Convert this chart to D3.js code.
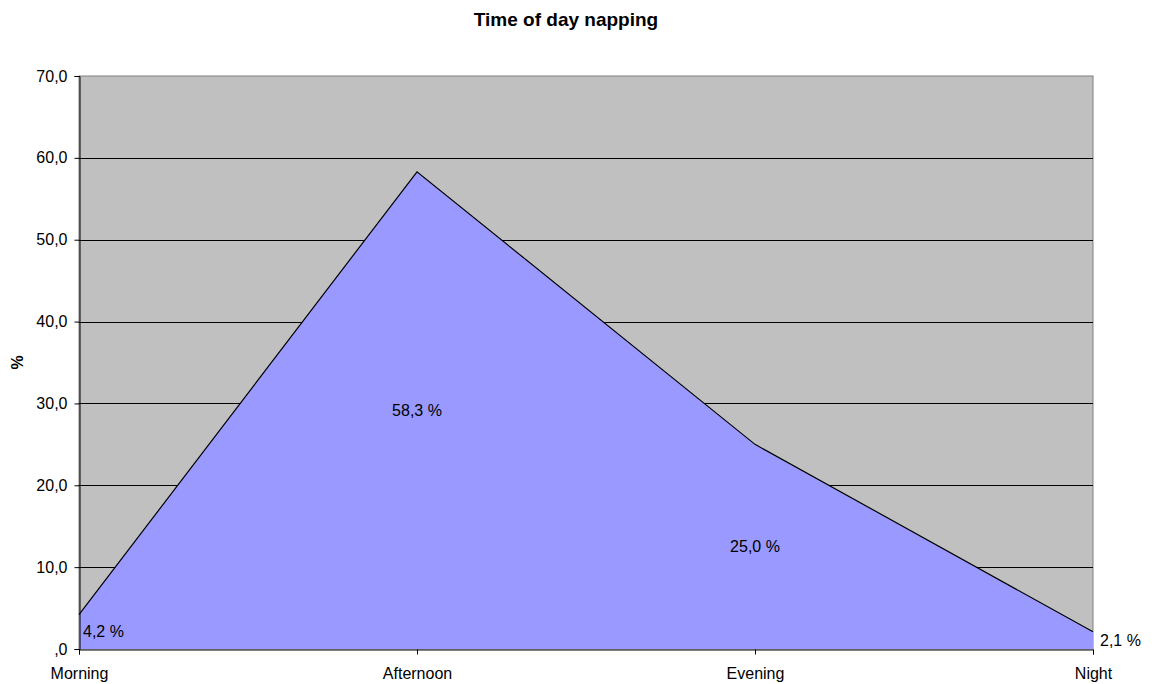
<!DOCTYPE html>
<html>
<head>
<meta charset="utf-8">
<script src="https://cdnjs.cloudflare.com/ajax/libs/d3/7.8.5/d3.min.js"></script>
<style>
  body { margin: 0; background: #fff; }
  text { font-family: "Liberation Sans", Arial, sans-serif; fill: #000; }
</style>
</head>
<body>
<script>
const categories = ["Morning", "Afternoon", "Evening", "Night"];
const values = [4.2, 58.3, 25.0, 2.1];
const yTicks = [0, 10, 20, 30, 40, 50, 60, 70];

const width = 1155, height = 684;
const margin = { top: 76, right: 62, bottom: 35, left: 79 };
const fontSize = "16px";

const svg = d3.select("body").append("svg")
  .attr("width", width)
  .attr("height", height);

const x = d3.scalePoint()
  .domain(categories)
  .range([margin.left, width - margin.right])
  .padding(0);

const y = d3.scaleLinear()
  .domain([0, 70])
  .range([height - margin.bottom, margin.top]);

const fmt = v => v === 0 ? ",0" : d3.format(".1f")(v).replace(".", ",");

// plot background
svg.append("rect")
  .attr("x", margin.left)
  .attr("y", margin.top)
  .attr("width", x.range()[1] - margin.left)
  .attr("height", y(0) - margin.top)
  .attr("fill", "#c0c0c0")
  .attr("stroke", "#808080")
  .attr("stroke-width", 1);

// gridlines
svg.append("g")
  .selectAll("line")
  .data(yTicks.filter(d => d > 0 && d < 70))
  .join("line")
  .attr("x1", margin.left)
  .attr("x2", x.range()[1])
  .attr("y1", d => Math.round(y(d)) + 0.5)
  .attr("y2", d => Math.round(y(d)) + 0.5)
  .attr("stroke", "#000")
  .attr("stroke-width", 1);

// area
const area = d3.area()
  .x((d, i) => x(categories[i]))
  .y0(y(0))
  .y1(d => y(d));

svg.append("path")
  .datum(values)
  .attr("d", area)
  .attr("fill", "#9999ff");

const line = d3.line()
  .x((d, i) => x(categories[i]))
  .y(d => y(d));

svg.append("path")
  .datum(values)
  .attr("d", line)
  .attr("fill", "none")
  .attr("stroke", "#000")
  .attr("stroke-width", 1.2);

// y axis
const yAxis = d3.axisLeft(y)
  .tickValues(yTicks)
  .tickSize(5)
  .tickPadding(7)
  .tickFormat(fmt);

const gy = svg.append("g")
  .attr("transform", `translate(${margin.left + 0.5},0)`)
  .call(yAxis);
gy.select(".domain").attr("stroke", "#000");
gy.selectAll("text").style("font-size", fontSize).style("font-family", "Liberation Sans, Arial, sans-serif");

// x axis
const xAxis = d3.axisBottom(x)
  .tickSize(5)
  .tickPadding(13);

const gx = svg.append("g")
  .attr("transform", `translate(0,${Math.round(y(0)) + 0.5})`)
  .call(xAxis);
gx.select(".domain").attr("stroke", "#000");
gx.selectAll("text").style("font-size", fontSize).style("font-family", "Liberation Sans, Arial, sans-serif");

// data labels
svg.append("g")
  .selectAll("text")
  .data(values)
  .join("text")
  .attr("x", (d, i) => {
    if (i === 0) return x(categories[i]) + 4;
    if (i === values.length - 1) return x(categories[i]) + 7;
    return x(categories[i]);
  })
  .attr("y", d => y(d / 2))
  .attr("dy", "0.35em")
  .attr("text-anchor", (d, i) => (i === 0 || i === values.length - 1) ? "start" : "middle")
  .style("font-size", fontSize)
  .text(d => fmt(d) + " %");

// title
svg.append("text")
  .attr("x", 566)
  .attr("y", 26)
  .attr("text-anchor", "middle")
  .style("font-size", "19px")
  .style("font-weight", "bold")
  .text("Time of day napping");

// y label
svg.append("text")
  .attr("transform", `translate(23,${(margin.top + y(0)) / 2}) rotate(-90)`)
  .attr("text-anchor", "middle")
  .style("font-size", fontSize)
  .style("font-weight", "bold")
  .text("%");
</script>
</body>
</html>
